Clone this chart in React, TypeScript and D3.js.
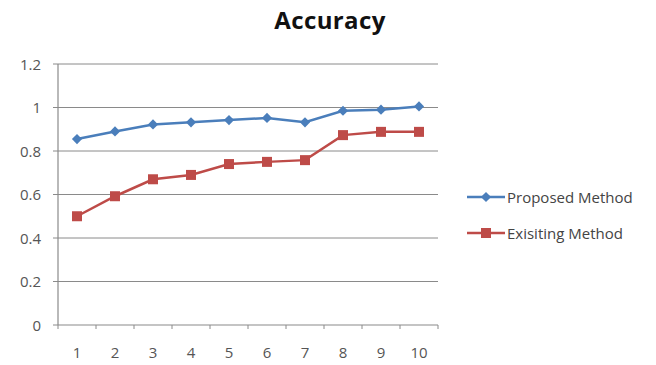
import React from "react";
import * as d3 from "d3";

const categories = ["1", "2", "3", "4", "5", "6", "7", "8", "9", "10"];
const proposed = [0.855, 0.89, 0.922, 0.932, 0.942, 0.952, 0.932, 0.985, 0.99, 1.005];
const existing = [0.5, 0.592, 0.67, 0.69, 0.74, 0.75, 0.758, 0.873, 0.888, 0.888];
const yTicks = [0, 0.2, 0.4, 0.6, 0.8, 1, 1.2];
const seriesNames = ["Proposed Method", "Exisiting Method"];

const W = 656, H = 365;
const left = 58, right = 438, top = 64, bottom = 325;
const BLUE = "#4A7EBB", RED = "#BE4B48";
const FONT = "'Open Sans', 'Liberation Sans', sans-serif";

export default function App() {
  const x = d3.scaleBand<string>().domain(categories).range([left, right]).padding(0);
  const y = d3.scaleLinear().domain([0, 1.2]).range([bottom, top]);
  const cx = (i: number) => (x(categories[i]) as number) + x.bandwidth() / 2;
  const line = d3.line<number>().x((_, i) => cx(i)).y((d) => y(d));
  const bounds = categories.map((c) => x(c) as number).concat([right]);

  return (
    <svg width={W} height={H} style={{ position: "absolute", left: 0, top: 0, background: "#fff" }}>
      <text x={330} y={29} textAnchor="middle" fontFamily={FONT} fontWeight="bold" fontSize={24} letterSpacing={0.4} fill="#111">Accuracy</text>
      {yTicks.map((t) => (
        <g key={t}>
          {t > 0 && <line x1={left} x2={right} y1={y(t)} y2={y(t)} stroke="#8a8a8a" strokeWidth={1} />}
          <line x1={left - 5} x2={left} y1={y(t)} y2={y(t)} stroke="#8a8a8a" strokeWidth={1} />
          <text x={41} y={y(t) + 5.5} textAnchor="end" fontFamily={FONT} fontSize={15} fill="#555">{String(t)}</text>
        </g>
      ))}
      <line x1={left} x2={left} y1={top} y2={bottom} stroke="#8a8a8a" strokeWidth={1.2} />
      <line x1={left} x2={right} y1={bottom} y2={bottom} stroke="#8a8a8a" strokeWidth={1.2} />
      {bounds.map((b, i) => (
        <line key={i} x1={b} x2={b} y1={bottom} y2={bottom + 4} stroke="#8a8a8a" strokeWidth={1} />
      ))}
      {categories.map((c, i) => (
        <text key={c} x={cx(i)} y={358} textAnchor="middle" fontFamily={FONT} fontSize={15} fill="#555">{c}</text>
      ))}
      <path d={line(proposed) || ""} fill="none" stroke={BLUE} strokeWidth={2.5} />
      {proposed.map((v, i) => (
        <rect key={i} x={cx(i) - 3.6} y={y(v) - 3.6} width={7.2} height={7.2} fill={BLUE} transform={`rotate(45 ${cx(i)} ${y(v)})`} />
      ))}
      <path d={line(existing) || ""} fill="none" stroke={RED} strokeWidth={2.5} />
      {existing.map((v, i) => (
        <rect key={i} x={cx(i) - 5} y={y(v) - 5} width={10} height={10} fill={RED} />
      ))}
      {seriesNames.map((n, i) => {
        const ly = 197 + i * 36;
        const col = i === 0 ? BLUE : RED;
        return (
          <g key={n}>
            <line x1={467} x2={505} y1={ly} y2={ly} stroke={col} strokeWidth={2.5} />
            {i === 0 ? (
              <rect x={486 - 3.6} y={ly - 3.6} width={7.2} height={7.2} fill={col} transform={`rotate(45 486 ${ly})`} />
            ) : (
              <rect x={486 - 5} y={ly - 5} width={10} height={10} fill={col} />
            )}
            <text x={507} y={ly + 5.5} fontFamily={FONT} fontSize={15} fill="#444">{n}</text>
          </g>
        );
      })}
    </svg>
  );
}
